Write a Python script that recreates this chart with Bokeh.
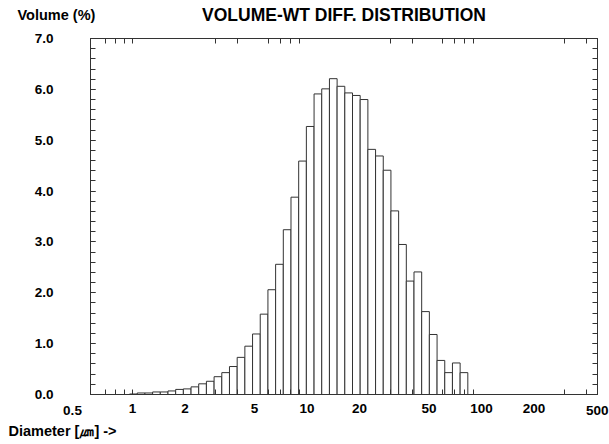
from bokeh.plotting import figure
from bokeh.models import (Range1d, LogAxis, LinearAxis, FixedTicker,
                          SingleIntervalTicker, PrintfTickFormatter,
                          ColumnDataSource)
from bokeh.core.properties import value
from bokeh.embed import file_html
from bokeh.resources import INLINE

# Channel edges (diameter, um)
bin_edges = [0.961, 1.064, 1.177, 1.303, 1.442, 1.596, 1.766, 1.955, 2.164, 2.394,
             2.650, 2.933, 3.247, 3.593, 3.977, 4.402, 4.872, 5.392, 5.968, 6.605,
             7.310, 8.090, 8.954, 9.911, 10.97, 12.14, 13.44, 14.87, 16.46, 18.22,
             20.16, 22.32, 24.70, 27.34, 30.25, 33.49, 37.06, 41.02, 45.39, 50.24,
             55.61, 61.55, 68.12, 75.40, 83.45]
# Volume (%) per channel
volume_pct = [0.01, 0.03, 0.03, 0.05, 0.05, 0.07, 0.10, 0.11, 0.15, 0.21,
              0.26, 0.35, 0.43, 0.55, 0.73, 0.95, 1.19, 1.58, 2.06, 2.56,
              3.24, 3.88, 4.59, 5.27, 5.91, 6.01, 6.21, 6.06, 5.93, 5.88,
              5.80, 4.82, 4.69, 4.41, 3.61, 2.95, 2.23, 2.41, 1.63, 1.18,
              0.67, 0.43, 0.62, 0.43]

x_major_ticks = [1, 2, 5, 10, 20, 50, 100, 200]
x_minor_ticks = [0.7, 0.8, 0.9, 1, 3, 4, 6, 7, 8, 9, 30, 40, 60, 70, 80, 90, 300, 400]
x_edge_labels = ["0.5", "500"]

title_text = "VOLUME-WT DIFF. DISTRIBUTION"
y_title = "Volume (%)"
x_title = "Diameter [\u339b] ->"

FONT = "Liberation Sans"
LINE = "#333333"
X_START, X_END = 0.574, 462
Y_START, Y_END = 0, 7

src = ColumnDataSource(dict(left=bin_edges[:-1], right=bin_edges[1:],
                            top=volume_pct, bottom=[0] * len(volume_pct)))

p = figure(width=609, height=444, x_axis_type="log",
           x_range=Range1d(X_START, X_END), y_range=Range1d(Y_START, Y_END),
           output_backend="svg", toolbar_location=None,
           min_border_left=90, min_border_right=12,
           min_border_top=38, min_border_bottom=50)
p.xgrid.visible = False
p.ygrid.visible = False
p.outline_line_color = LINE
p.outline_line_width = 1
p.background_fill_color = "white"
p.border_fill_color = "white"

p.quad(left="left", right="right", top="top", bottom="bottom", source=src,
       fill_color="white", line_color=LINE, line_width=1)

xticker = FixedTicker(ticks=x_major_ticks, minor_ticks=x_minor_ticks)
yticker = SingleIntervalTicker(interval=1, num_minor_ticks=5)

def style_axis(ax, labels=True):
    ax.axis_line_color = LINE
    ax.major_tick_line_color = LINE
    ax.minor_tick_line_color = LINE
    ax.minor_tick_in = 5
    ax.minor_tick_out = 0
    ax.major_tick_out = 0
    ax.major_label_text_font = FONT
    ax.major_label_text_font_style = "bold"
    ax.major_label_text_color = "black"
    if not labels:
        ax.major_label_text_color = None
        ax.major_label_text_font_size = "1px"
        ax.major_label_standoff = 0

xa = p.xaxis[0]
xa.ticker = xticker
style_axis(xa)
xa.major_tick_in = 0
xa.major_label_text_font_size = "13.5px"
xa.major_label_standoff = 9

ya = p.yaxis[0]
ya.ticker = yticker
ya.formatter = PrintfTickFormatter(format="%.1f")
style_axis(ya)
ya.major_tick_in = 5
ya.major_label_text_font_size = "13.5px"
ya.major_label_standoff = 37

top_ax = LogAxis(ticker=xticker)
style_axis(top_ax, labels=False)
top_ax.major_tick_in = 0
p.add_layout(top_ax, "above")

right_ax = LinearAxis(ticker=yticker)
style_axis(right_ax, labels=False)
right_ax.major_tick_in = 5
p.add_layout(right_ax, "right")

# texts that sit outside the frame, anchored to the axis ends
ann = ColumnDataSource(dict(
    x=[(X_START * X_END) ** 0.5, X_START, X_START, X_START, X_END],
    y=[Y_END, Y_END, Y_START, Y_START, Y_START],
    text=[title_text, y_title, x_title, x_edge_labels[0], x_edge_labels[1]],
    xo=[0, -73, -82, -18, 11],
    yo=[-24, -24, 36, 11, 11],
    align=["center", "left", "left", "center", "right"],
    base=["middle", "middle", "middle", "top", "top"],
    size=["17.5px", "14.5px", "14.5px", "13.5px", "13.5px"],
))
p.text(x="x", y="y", text="text", x_offset="xo", y_offset="yo",
       text_align="align", text_baseline="base", text_font_size="size",
       text_font=value(FONT), text_font_style="bold", text_color="black",
       source=ann, level="overlay")

open("out.html", "w").write(file_html(p, INLINE))
